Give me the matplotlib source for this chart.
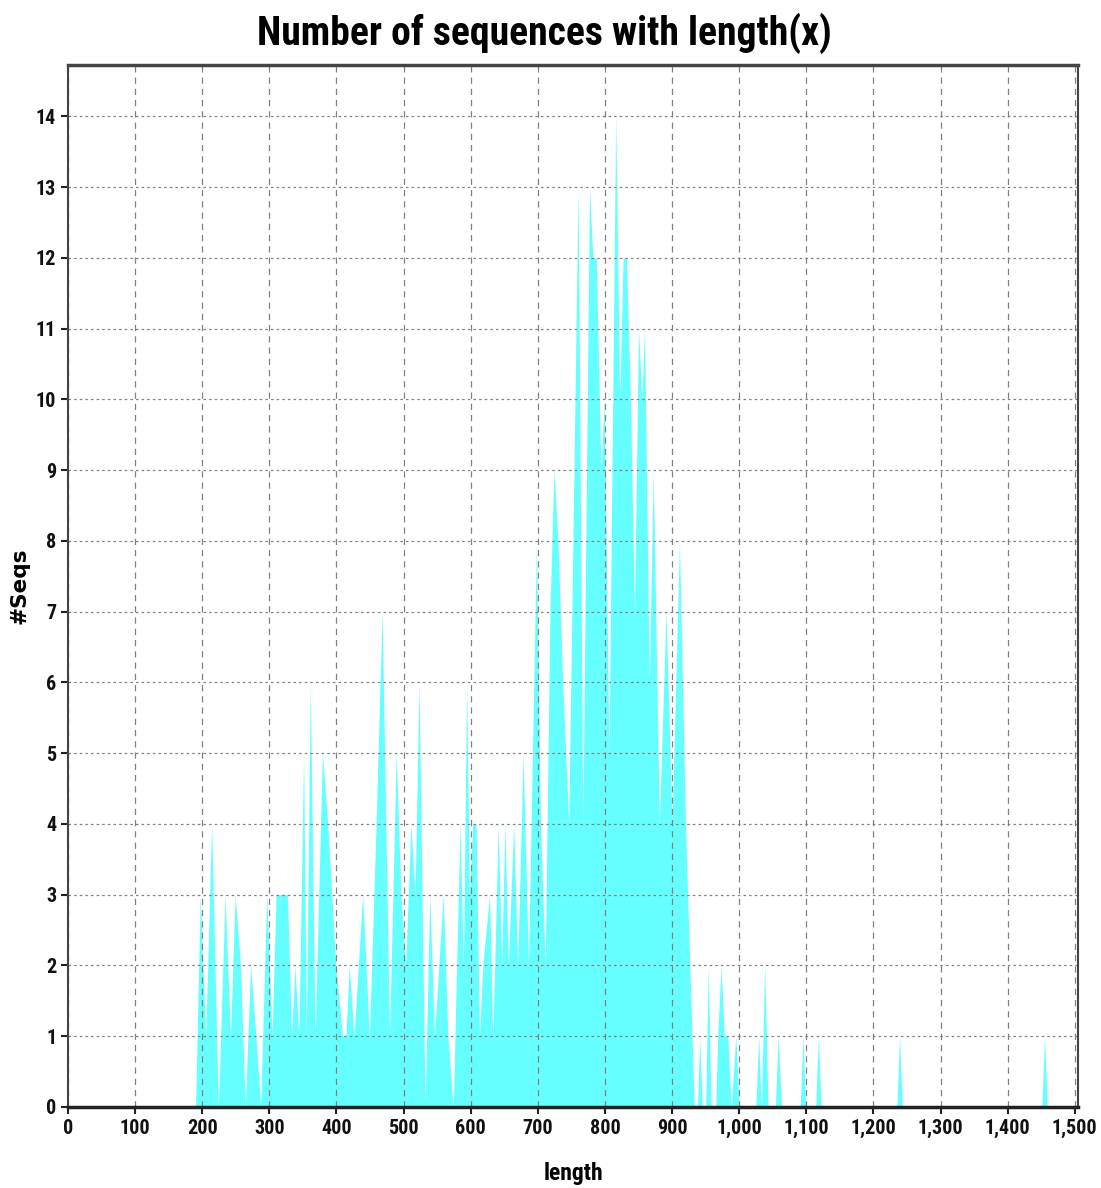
import matplotlib
matplotlib.use('Agg')
import matplotlib.pyplot as plt
from matplotlib import font_manager
from matplotlib.ticker import FuncFormatter

# sequence length -> number of sequences with that length
lengths = [190, 197, 205, 214, 224, 234, 242, 249, 257, 264, 272, 280, 287,
           296, 304, 310, 327, 333, 338, 344, 351, 355, 361, 368, 379, 387,
           399, 409, 414, 419, 426, 439, 449, 459, 468, 479, 489, 496, 503,
           511, 517, 523, 532, 539, 546, 559, 566, 574, 584, 589, 594, 598,
           603, 608, 613, 618, 628, 633, 641, 646, 651, 656, 664, 670, 678,
           686, 698, 704, 711, 718, 724, 730, 737, 746, 760, 767, 777, 782,
           787, 794, 799, 806, 816, 822, 827, 832, 838, 844, 850, 855, 859,
           866, 872, 881, 891, 900, 911, 920, 933,
           938, 941, 945, 950, 954, 958, 965, 968, 973, 978, 983, 988, 995,
           1000, 1025, 1029, 1033, 1038, 1043, 1054, 1058, 1063, 1091, 1095,
           1099, 1114, 1118, 1122, 1235, 1239, 1243, 1451, 1455, 1459]
counts = [0, 3, 1, 4, 0, 3, 1, 3, 2, 0, 2, 1, 0,
          3, 1, 3, 3, 1, 2, 1, 5, 1, 6, 1, 5, 4,
          2, 1, 1, 2, 1, 3, 1, 4, 7, 1, 5, 3, 2,
          4, 3, 6, 0, 3, 1, 3, 1, 0, 4, 2, 6, 3,
          4, 4, 1, 2, 3, 1, 4, 2, 4, 2, 4, 2, 5,
          2, 8, 4, 2, 7, 9, 8, 6, 4, 13, 4, 13, 12,
          12, 9, 10, 5, 14, 10, 12, 12, 10, 7, 11, 10, 11,
          6, 9, 4, 7, 4, 8, 4, 0,
          0, 1, 0, 0, 2, 0, 0, 1, 2, 1, 1, 0, 1,
          0, 0, 1, 0, 2, 0, 0, 1, 0, 0, 1,
          0, 0, 1, 0, 0, 1, 0, 0, 1, 0]

xticks = list(range(0, 1501, 100))
yticks = list(range(0, 15))

available = {f.name for f in font_manager.fontManager.ttflist}
narrow = 'DejaVu Sans'
for name in ['Liberation Sans Narrow', 'DejaVu Sans Condensed', 'Roboto Condensed',
             'Open Sans Condensed', 'Liberation Sans']:
    if name in available:
        narrow = name
        break

fig = plt.figure(figsize=(11.01, 11.88), dpi=100)
ax = fig.add_axes([0.0618, 0.0682, 0.9174, 0.8768])

ax.fill_between(lengths, counts, 0, color='#66ffff', linewidth=0, zorder=1)

ax.set_xlim(0, 1505)
ax.set_ylim(0, 14.72)
ax.set_xticks(xticks)
ax.set_yticks(yticks)
ax.xaxis.set_major_formatter(FuncFormatter(lambda v, p: '{:,}'.format(int(v))))

ax.xaxis.grid(True, color='#808080', linestyle=(0, (5, 4)), linewidth=0.9)
ax.yaxis.grid(True, color='#808080', linestyle=(0, (2, 2.5)), linewidth=0.9)

for side in ['left', 'right', 'top']:
    ax.spines[side].set_color('#444444')
    ax.spines[side].set_linewidth(1.5)
ax.spines['top'].set_linewidth(2.5)
ax.spines['bottom'].set_color('#222222')
ax.spines['bottom'].set_linewidth(2.5)

ax.tick_params(axis='both', length=5, width=1.5, color='#222222')
for lab in ax.get_xticklabels() + ax.get_yticklabels():
    lab.set_fontfamily(narrow)
    lab.set_fontweight('bold')
    lab.set_fontsize(14.5)
    lab.set_color('#111111')

ax.set_xlabel('length', fontfamily=narrow, fontweight='bold', fontsize=17, labelpad=17)
ax.set_ylabel('#Seqs', fontfamily='DejaVu Sans', fontweight='bold', fontsize=15.5)
ax.yaxis.set_label_coords(-0.038, 0.5)
fig.text(0.494, 0.972, 'Number of sequences with length(x)', ha='center', va='center',
         fontfamily=narrow, fontweight='bold', fontsize=28.5)

fig.savefig('out.png', dpi=100)
